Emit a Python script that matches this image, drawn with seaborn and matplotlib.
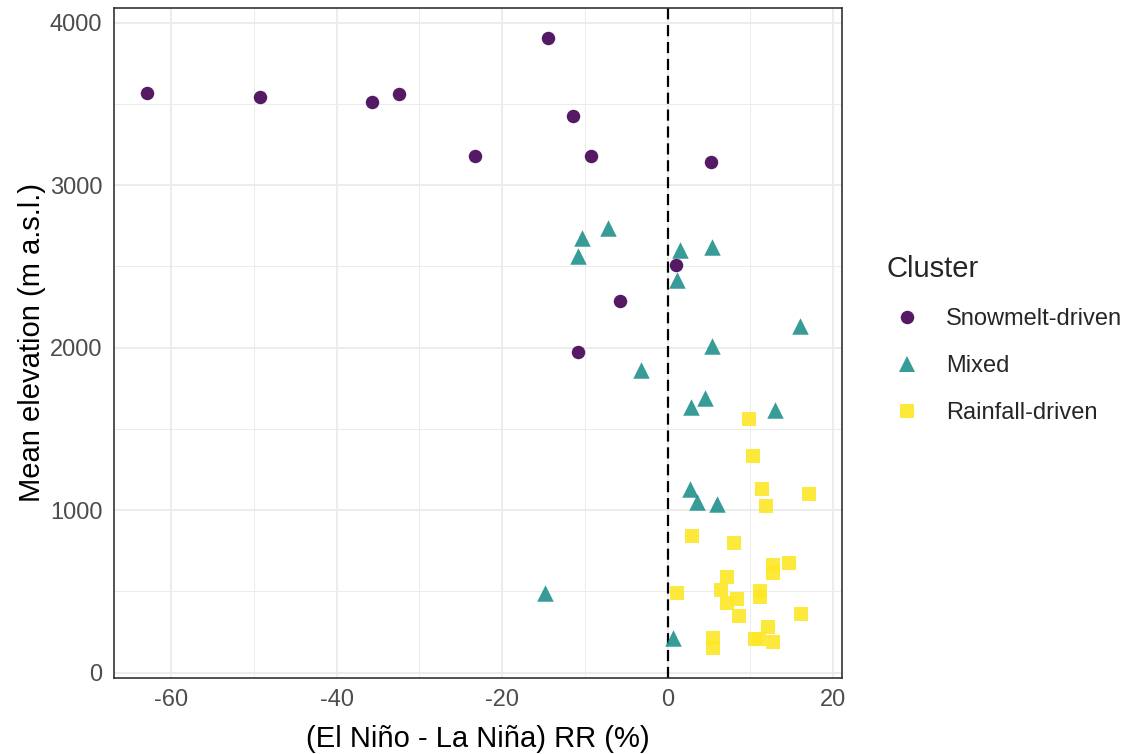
import matplotlib
matplotlib.use("Agg")
import matplotlib.pyplot as plt
from matplotlib.lines import Line2D
import seaborn as sns
import pandas as pd
import numpy as np

# ---- data ----
snow_x = [-63.0, -49.3, -35.8, -32.5, -14.5, -23.3, -11.4, -9.3, 5.3, 1.0, -5.8, -10.8]
snow_y = [3566, 3543, 3512, 3563, 3902, 3181, 3426, 3176, 3142, 2510, 2288, 1972]

mixed_x = [-7.2, -10.4, -10.8, 1.5, 5.4, 1.1, 16.0, 5.4, -3.2, 4.5, 2.9, 13.0, 2.7, 3.6, 6.0, -14.8, 0.7]
mixed_y = [2734, 2672, 2562, 2600, 2620, 2415, 2136, 2012, 1861, 1689, 1632, 1614, 1132, 1050, 1036, 489, 214]

rain_x = [9.8, 10.3, 11.45, 17.1, 11.9, 3.0, 8.1, 12.8, 14.7, 12.7, 7.2, 6.5, 1.2, 11.15, 11.15,
          8.4, 7.2, 8.7, 16.2, 12.2, 5.5, 5.5, 10.6, 11.1, 12.8]
rain_y = [1563, 1331, 1132, 1101, 1024, 839, 800, 665, 673, 615, 586, 508, 489, 505, 464,
          451, 430, 346, 359, 282, 213, 155, 206, 210, 192]

clusters = ["Snowmelt-driven", "Mixed", "Rainfall-driven"]
colors = ["#440154", "#21908C", "#FDE725"]
markers = ["o", "^", "s"]
sizes = [94, 141, 88]
leg_ms = [9.7, 11.9, 9.4]

x_ticks = [-60, -40, -20, 0, 20]
x_minor = [-50, -30, -10, 10]
y_ticks = [0, 1000, 2000, 3000, 4000]
y_minor = [500, 1500, 2500, 3500]

df = pd.DataFrame({
    "rr": snow_x + mixed_x + rain_x,
    "elev": snow_y + mixed_y + rain_y,
    "Cluster": [clusters[0]] * len(snow_x) + [clusters[1]] * len(mixed_x) + [clusters[2]] * len(rain_x),
})

sns.set_style("white")
plt.rcParams["font.family"] = ["Liberation Sans", "DejaVu Sans"]

fig = plt.figure(figsize=(11.28, 7.54), dpi=100)
ax = fig.add_axes([113.5 / 1128, 1 - 678 / 754, (842 - 113.5) / 1128, (678 - 8) / 754])

ax.axvline(0, color="black", lw=1.6, ls=(0, (5, 2.6)), zorder=2)

for cl, col, mk, s in zip(clusters, colors, markers, sizes):
    sub = df[df["Cluster"] == cl]
    sns.scatterplot(data=sub, x="rr", y="elev", color=col, marker=mk, s=s,
                    alpha=0.9, linewidth=0, ax=ax, legend=False, zorder=3)

# limits with ggplot-like 5% expansion
xr = df["rr"].max() - df["rr"].min()
yr = df["elev"].max() - df["elev"].min()
ax.set_xlim(df["rr"].min() - 0.05 * xr, df["rr"].max() + 0.05 * xr)
ax.set_ylim(df["elev"].min() - 0.05 * yr, df["elev"].max() + 0.05 * yr)

ax.set_xticks(x_ticks)
ax.set_xticks(x_minor, minor=True)
ax.set_yticks(y_ticks)
ax.set_yticks(y_minor, minor=True)
ax.set_xticklabels([str(v) for v in x_ticks])
ax.set_yticklabels([str(v) for v in y_ticks])

ax.grid(which="major", color="#EBEBEB", lw=1.3, zorder=0)
ax.grid(which="minor", color="#EBEBEB", lw=0.7, zorder=0)
ax.set_axisbelow(True)

for sp in ax.spines.values():
    sp.set_color("#333333")
    sp.set_linewidth(1.2)
    sp.set_visible(True)

ax.tick_params(which="major", length=5, width=1.1, color="#333333",
               labelsize=17, labelcolor="#4D4D4D", pad=3)
ax.tick_params(which="minor", length=0)

ax.set_xlabel("(El Niño - La Niña) RR (%)", fontsize=21, color="black", labelpad=10)
ax.set_ylabel("Mean elevation (m a.s.l.)", fontsize=21, color="black", labelpad=3)

handles = [Line2D([], [], ls="none", marker=mk, color=col, alpha=0.9, markersize=ms, markeredgewidth=0)
           for col, mk, ms in zip(colors, markers, leg_ms)]
leg = ax.legend(handles, clusters, title="Cluster", loc="upper left",
                bbox_to_anchor=(886 / 1128, 1 - 255 / 754), bbox_transform=fig.transFigure,
                frameon=False, fontsize=17, title_fontsize=21, alignment="left",
                borderaxespad=0, borderpad=0, labelspacing=1.06,
                handlelength=1.8, handletextpad=0.75)

fig.savefig("out.png", dpi=100)
